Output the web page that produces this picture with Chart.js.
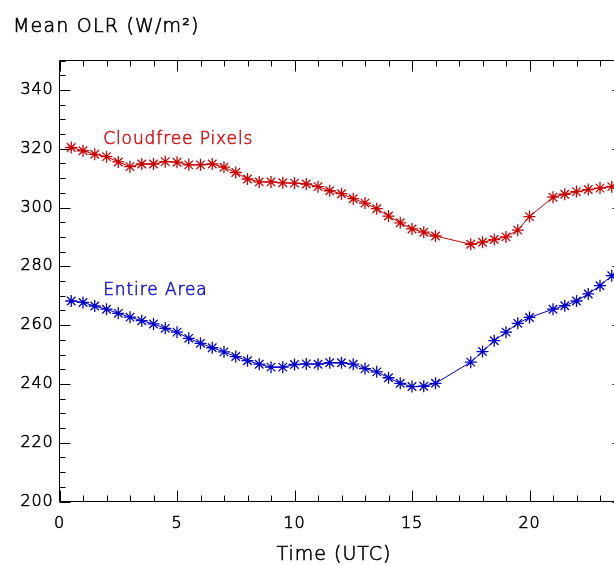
<!DOCTYPE html>
<html>
<head>
<meta charset="utf-8">
<script src="https://cdn.jsdelivr.net/npm/chart.js@4/dist/chart.umd.min.js"></script>
<style>
  html, body { margin: 0; padding: 0; background: #fff; width: 614px; height: 566px; overflow: hidden; }
  canvas { display: block; }
</style>
</head>
<body>
<canvas id="olr" width="640" height="566"></canvas>
<script>
// Half-hourly observation times (UTC); 16.5, 17 and 20.5 have no data
const hours = [
  0.5, 1, 1.5, 2, 2.5, 3, 3.5, 4, 4.5, 5, 5.5, 6, 6.5, 7, 7.5, 8,
  8.5, 9, 9.5, 10, 10.5, 11, 11.5, 12, 12.5, 13, 13.5, 14, 14.5, 15, 15.5, 16,
  17.5, 18, 18.5, 19, 19.5, 20,
  21, 21.5, 22, 22.5, 23, 23.5
];

// Mean outgoing longwave radiation, W/m²
const cloudfree = [
  320.4, 319.3, 318.1, 317.3, 315.5, 313.9, 314.8, 314.8, 315.6, 315.4, 314.5, 314.5, 314.8, 313.7, 311.9, 309.7,
  308.7, 308.7, 308.4, 308.3, 308.0, 307.1, 305.7, 304.7, 303.0, 301.5, 299.6, 297.1, 294.8, 292.7, 291.6, 290.3,
  287.5, 288.2, 289.1, 290.0, 292.3, 296.9,
  303.5, 304.5, 305.4, 306.1, 306.6, 307.1
];
const entireArea = [
  268.2, 267.7, 266.5, 265.4, 264.0, 262.7, 261.5, 260.4, 258.9, 257.6, 255.5, 253.8, 252.3, 250.9, 249.3, 247.9,
  246.7, 245.7, 245.7, 246.6, 246.8, 246.7, 247.2, 247.2, 246.7, 245.2, 244.1, 242.1, 240.2, 239.1, 239.2, 240.2,
  247.4, 251.0, 254.7, 257.6, 260.6, 262.6,
  265.4, 266.6, 268.2, 270.6, 273.4, 276.8
];

const seriesNames = ['Cloudfree Pixels', 'Entire Area'];
const xTickValues = [0, 5, 10, 15, 20];
const yTickValues = [200, 220, 240, 260, 280, 300, 320, 340];
const yTitle = 'Mean OLR (W/m\u00B2)';
const xTitle = 'Time (UTC)';

const FONT = 'DejaVu Sans';
const WEIGHT = 200;
const TEXT_STROKE = 0.6;
const RED = 'rgb(205,0,0)';
const BLUE = 'rgb(0,0,205)';

// Where each series name sits, in data units (left edge, baseline)
const seriesLabelStyle = [
  { x: 1.86, y: 321.6, color: 'rgb(220,20,20)' },
  { x: 1.86, y: 270.3, color: 'rgb(25,25,220)' }
];

function paintText(ctx, text, px, py, color) {
  ctx.fillStyle = color;
  ctx.strokeStyle = color;
  ctx.lineWidth = TEXT_STROKE;
  ctx.fillText(text, px, py);
  ctx.strokeText(text, px, py);
}

// Box frame with inward ticks on all four sides, plus the free text
const framePlugin = {
  id: 'frame',
  beforeDraw(chart) {
    chart.ctx.letterSpacing = '0.8px';
  },
  beforeDatasetsDraw(chart) {
    const { ctx, chartArea: a, scales: { x, y } } = chart;
    ctx.save();
    ctx.strokeStyle = '#000';
    ctx.lineWidth = 1;
    ctx.beginPath();
    ctx.rect(a.left, a.top, a.right - a.left, a.bottom - a.top);
    for (let h = x.min; h <= x.max; h += 1) {
      const px = Math.round(x.getPixelForValue(h)) + 0.5;
      const len = h % 5 === 0 ? 11 : 6;
      ctx.moveTo(px, a.bottom); ctx.lineTo(px, a.bottom - len);
      ctx.moveTo(px, a.top); ctx.lineTo(px, a.top + len);
    }
    for (let v = y.min; v <= y.max; v += 5) {
      const py = Math.round(y.getPixelForValue(v)) + 0.5;
      const len = v % 20 === 0 ? 11 : 6;
      ctx.moveTo(a.left, py); ctx.lineTo(a.left + len, py);
      ctx.moveTo(a.right, py); ctx.lineTo(a.right - len, py);
    }
    ctx.stroke();
    ctx.restore();
  },
  afterDraw(chart) {
    const { ctx, scales: { x, y } } = chart;
    ctx.save();
    ctx.textBaseline = 'alphabetic';
    ctx.letterSpacing = '1.2px';
    ctx.font = WEIGHT + ' 19px "' + FONT + '"';
    ctx.textAlign = 'left';
    paintText(ctx, yTitle, 13, 32, '#000');
    ctx.textAlign = 'center';
    ctx.letterSpacing = '1px';
    paintText(ctx, xTitle, 334, 560, '#000');

    ctx.textAlign = 'left';
    ctx.font = WEIGHT + ' 17px "' + FONT + '"';
    ctx.letterSpacing = '0.9px';
    seriesNames.forEach((name, i) => {
      const s = seriesLabelStyle[i];
      paintText(ctx, name, x.getPixelForValue(s.x), y.getPixelForValue(s.y), s.color);
    });
    ctx.restore();
  }
};

const makeSeries = (label, values, color) => ({
  label,
  data: hours.map((h, i) => ({ x: h, y: values[i] })),
  borderColor: color,
  borderWidth: 1,
  tension: 0,
  pointStyle: 'star',
  pointRadius: 6,
  pointBorderWidth: 1.3,
  pointBorderColor: color,
  pointBackgroundColor: color
});

const tickStyle = {
  color: '#000',
  textStrokeColor: '#000',
  textStrokeWidth: TEXT_STROKE,
  font: { family: FONT, size: 16, weight: WEIGHT }
};

new Chart(document.getElementById('olr'), {
  type: 'line',
  data: {
    datasets: [
      makeSeries(seriesNames[0], cloudfree, RED),
      makeSeries(seriesNames[1], entireArea, BLUE)
    ]
  },
  options: {
    responsive: false,
    animation: false,
    devicePixelRatio: 1,
    layout: { padding: { top: 60.5, right: 16.5, bottom: 0, left: 0 } },
    plugins: { legend: { display: false }, tooltip: { enabled: false } },
    scales: {
      x: {
        type: 'linear',
        min: 0,
        max: 24,
        grid: { display: false, drawTicks: false },
        border: { display: false },
        afterBuildTicks: s => { s.ticks = xTickValues.map(v => ({ value: v })); },
        afterFit: s => { s.height = 64.5; },
        ticks: Object.assign({ padding: 13, autoSkip: false, maxRotation: 0 }, tickStyle)
      },
      y: {
        type: 'linear',
        min: 200,
        max: 350,
        grid: { display: false, drawTicks: false },
        border: { display: false },
        afterBuildTicks: s => { s.ticks = yTickValues.map(v => ({ value: v })); },
        afterFit: s => { s.width = 59.5; },
        ticks: Object.assign({ padding: 6 }, tickStyle)
      }
    }
  },
  plugins: [framePlugin]
});
</script>
</body>
</html>
